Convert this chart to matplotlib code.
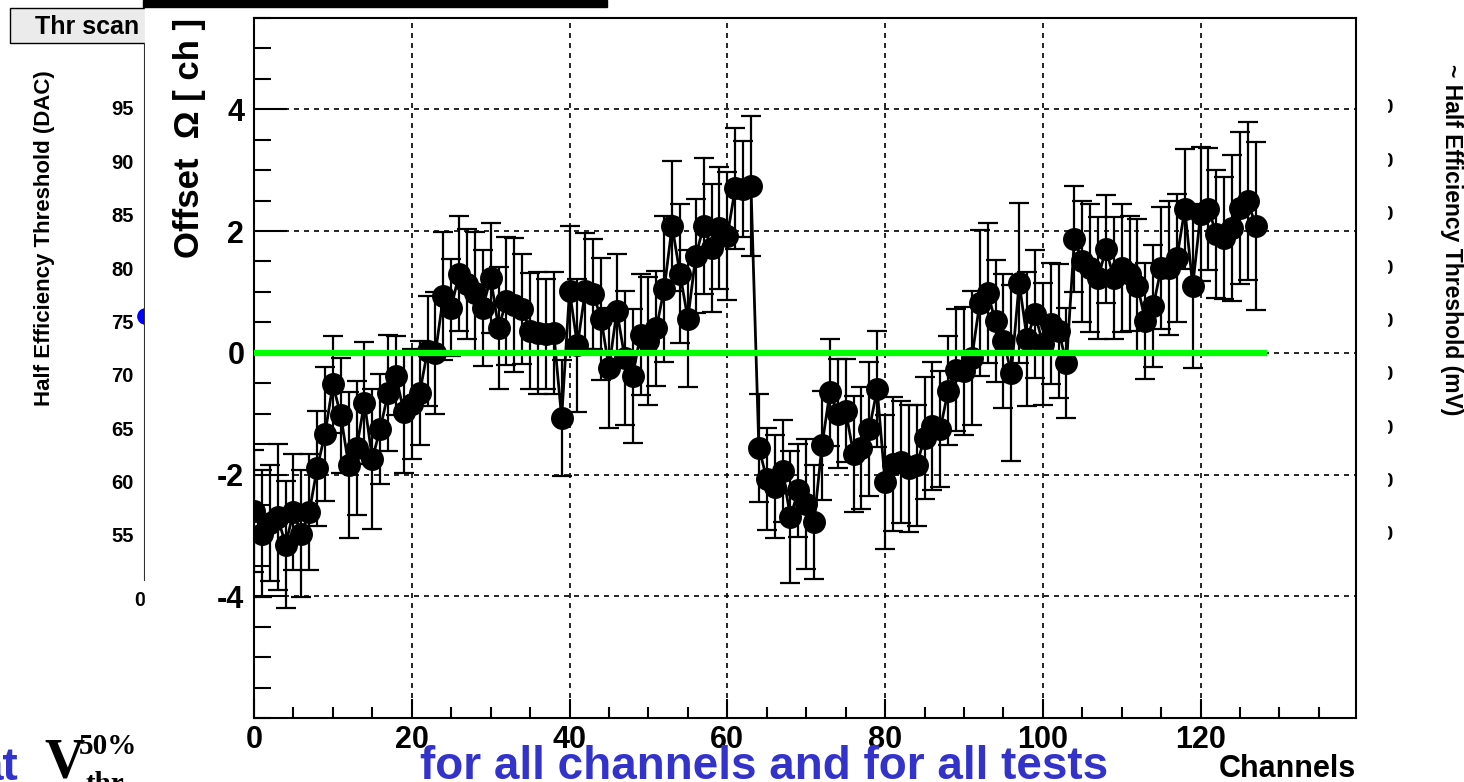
import numpy as np
import matplotlib
matplotlib.use('Agg')
import matplotlib.pyplot as plt
from matplotlib.patches import Rectangle
from matplotlib.transforms import blended_transform_factory

plt.rcParams['font.family'] = ['Liberation Sans', 'DejaVu Sans']
plt.rcParams['axes.unicode_minus'] = False

# offset per channel from the threshold scan
channels = np.arange(128)
offset = [
    -2.6, -2.97, -2.8, -2.7, -3.15, -2.62, -2.97, -2.62, -1.9, -1.33,
    -0.52, -1.03, -1.85, -1.57, -0.82, -1.74, -1.25, -0.66, -0.38, -0.98,
    -0.84, -0.66, 0.03, 0.0, 0.93, 0.74, 1.3, 1.13, 0.98, 0.74,
    1.23, 0.41, 0.85, 0.78, 0.72, 0.36, 0.33, 0.31, 0.33, -1.07,
    1.02, 0.12, 1.02, 0.97, 0.56, -0.25, 0.69, -0.08, -0.38, 0.3,
    0.2, 0.4, 1.05, 2.08, 1.3, 0.56, 1.59, 2.08, 1.72, 2.05,
    1.92, 2.7, 2.69, 2.74, -1.56, -2.07, -2.2, -1.94, -2.7, -2.26,
    -2.48, -2.78, -1.52, -0.65, -1.0, -0.95, -1.66, -1.56, -1.25, -0.6,
    -2.13, -1.82, -1.8, -1.9, -1.85, -1.4, -1.2, -1.25, -0.62, -0.28,
    -0.3, -0.08, 0.82, 0.98, 0.52, 0.2, -0.33, 1.15, 0.23, 0.64,
    0.15, 0.48, 0.36, -0.17, 1.87, 1.5, 1.39, 1.23, 1.7, 1.23,
    1.39, 1.3, 1.1, 0.52, 0.77, 1.39, 1.39, 1.56, 2.36, 1.1,
    2.28, 2.36, 1.95, 1.89, 2.05, 2.38, 2.49, 2.08,
]
offset_err = [
    1.0, 1.05, 0.95, 1.2, 1.05, 0.95, 1.05, 0.95, 0.95, 1.1,
    0.8, 0.95, 1.2, 1.1, 1.0, 1.15, 0.9, 0.95, 0.65, 1.0,
    0.9, 0.85, 0.9, 1.0, 1.05, 0.8, 0.95, 0.9, 1.0, 0.95,
    0.9, 1.0, 1.05, 1.1, 0.9, 0.95, 1.0, 0.9, 1.0, 0.95,
    1.06, 1.1, 0.95, 0.9, 1.0, 0.98, 0.93, 1.1, 1.1, 1.0,
    1.05, 0.95, 1.2, 1.07, 1.14, 1.13, 0.93, 1.12, 1.05, 1.0,
    1.05, 1.0, 0.79, 1.15, 0.89, 0.84, 0.85, 0.84, 1.09, 0.76,
    1.07, 0.94, 0.9, 0.88, 0.9, 0.85, 0.95, 1.0, 1.1, 0.95,
    1.1, 1.1, 1.0, 1.05, 1.0, 1.0, 1.05, 0.95, 0.9, 1.0,
    1.05, 1.1, 1.2, 1.15, 1.0, 1.1, 1.44, 1.31, 1.1, 1.05,
    1.0, 1.0, 1.1, 0.9, 0.87, 1.0, 1.05, 1.0, 0.89, 1.0,
    1.05, 0.95, 1.1, 0.95, 1.0, 1.0, 1.1, 1.05, 0.98, 1.35,
    1.1, 1.0, 1.05, 1.0, 1.2, 1.25, 1.3, 1.38,
]
fit_range = [0, 128]
fit_value = 0.0

# underlying threshold-scan canvas
dac_ticks = [55, 60, 65, 70, 75, 80, 85, 90, 95]
mv_labels = ['110', '120', '130', '140', '150', '160', '170', '180', '190']
first_dac = [75.5]

W, H = 1464, 782


def fx(px):
    return px / W


def fy(py):
    return 1 - py / H


fig = plt.figure(figsize=(W / 100, H / 100), dpi=100)

bg = fig.add_axes([fx(145), fy(580), fx(1387) - fx(145), fy(45) - fy(580)], zorder=0)
bg.set_xlim(0, 140)
bg.set_ylim(55 - 45 / 10.675, 95 + 63 / 10.675)
bg.plot([0], first_dac, 'o', color='blue', ms=11, clip_on=False)
bg.set_yticks(dac_ticks)
bg.set_yticklabels([str(v) for v in dac_ticks], fontsize=14.5, fontweight='bold')
bg.set_xticks([0])
bg.set_xticklabels(['0'], fontsize=14.5, fontweight='bold', ha='right')
bg.tick_params(axis='both', direction='in', length=0, pad=8)
for s in ['top', 'right', 'bottom']:
    bg.spines[s].set_visible(False)
bg.spines['left'].set_linewidth(1.5)
tr = blended_transform_factory(bg.transAxes, bg.transData)
for v, lab in zip(dac_ticks, mv_labels):
    bg.text(1.0056, v, lab, transform=tr, ha='right', va='center',
            fontsize=14.5, fontweight='bold')
fig.text(fx(45), fy(238), 'Half Efficiency Threshold (DAC)', rotation=90,
         ha='center', va='center', fontsize=16, fontweight='bold', zorder=0)
fig.text(fx(1452), fy(240), '~ Half Efficiency Threshold (mV)', rotation=270,
         ha='center', va='center', fontsize=16.5, fontweight='bold', zorder=0)
fig.add_artist(Rectangle((fx(10), fy(43)), fx(160), fy(8) - fy(43),
                         transform=fig.transFigure, facecolor='#ebebeb',
                         edgecolor='black', lw=1, zorder=0))
fig.text(fx(35), fy(27), 'Thr scan', ha='left', va='center', fontsize=18,
         fontweight='bold', zorder=0)

# main canvas on top
fig.add_artist(Rectangle((fx(145), 0), fx(1387) - fx(145), 1,
                         transform=fig.transFigure, color='white', zorder=1))
fig.add_artist(Rectangle((fx(143), fy(7)), fx(607) - fx(143), fy(0) - fy(7),
                         transform=fig.transFigure, color='black', zorder=3))

ax = fig.add_axes([fx(254), fy(718), fx(1356) - fx(254), fy(18) - fy(718)], zorder=2)
ax.errorbar(channels, offset, yerr=offset_err, fmt='o', color='black', ms=15.5,
            elinewidth=1.6, capsize=7, capthick=1.6, zorder=2)
ax.plot(channels, offset, color='black', lw=2, zorder=2)
ax.plot(fit_range, [fit_value, fit_value], color='#00ff00', lw=4.5, zorder=4)

ax.set_xlim(0, 139.7)
ax.set_ylim(-6, 5.5)
ax.set_xticks(range(0, 140, 20))
ax.set_xticks(range(0, 140, 5), minor=True)
ax.set_yticks([-4, -2, 0, 2, 4])
ax.set_yticks(np.arange(-6, 5.6, 0.5), minor=True)
ax.tick_params(axis='y', which='major', direction='in', length=24, width=1.5,
               labelsize=22, pad=7)
ax.tick_params(axis='y', which='minor', direction='in', length=12, width=1.5)
ax.tick_params(axis='x', which='major', direction='in', length=14, width=1.5,
               labelsize=22, pad=5)
ax.tick_params(axis='x', which='minor', direction='in', length=8, width=1.5)
for lab in ax.get_xticklabels() + ax.get_yticklabels():
    lab.set_fontweight('bold')
for s in ax.spines.values():
    s.set_linewidth(1.5)
ax.grid(True, which='major', color='black', linestyle=(0, (3, 3)), lw=1.2)

ax.set_ylabel('Offset  Ω [ ch ]', fontsize=25, fontweight='bold', loc='top')
ax.yaxis.set_label_coords(-0.044, 1.0)
ax.set_xlabel('Channels', fontsize=22, fontweight='bold', loc='right')
ax.xaxis.set_label_coords(1.0, -0.052)

# bottom caption
blue = '#3333cc'
fig.text(fx(18), fy(780), 'at', ha='right', va='baseline', fontsize=33,
         fontweight='bold', color=blue, zorder=5)
fig.text(fx(44), fy(777), 'V', ha='left', va='baseline', fontsize=40,
         fontweight='bold', family='Liberation Serif', zorder=5)
fig.text(fx(79), fy(754), '50%', ha='left', va='baseline', fontsize=21,
         fontweight='bold', family='Liberation Serif', zorder=5)
fig.text(fx(85), fy(792), 'thr', ha='left', va='baseline', fontsize=21,
         fontweight='bold', family='Liberation Serif', zorder=5)
fig.text(fx(420), fy(779), 'for all channels and for all tests', ha='left',
         va='baseline', fontsize=33, fontweight='bold', color=blue, zorder=5)

fig.savefig('out.png', dpi=100)
